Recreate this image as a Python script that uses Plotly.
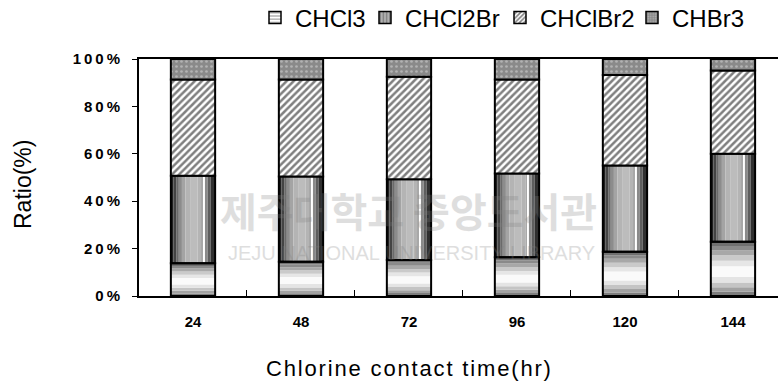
import plotly.graph_objects as go

# Contact times (hr) and composition of THM species (% of total)
times = ["24", "48", "72", "96", "120", "144"]
chcl3 = [13.8, 14.5, 15.2, 16.3, 18.7, 22.9]
chcl2br = [36.9, 35.9, 34.1, 35.4, 36.4, 37.1]
chclbr2 = [40.6, 40.9, 43.2, 39.6, 38.1, 35.1]
chbr3 = [8.7, 8.7, 7.5, 8.7, 6.8, 4.9]

series_names = ["CHCl3", "CHCl2Br", "CHClBr2", "CHBr3"]
y_ticks = [0, 20, 40, 60, 80, 100]

BAR_W = 0.41
THIN = "\u2009"
HAIR = "\u200a"

def spaced(s, sep=THIN):
    return sep.join(list(s))

fig = go.Figure()

base_cl2br = chcl3
base_clbr2 = [a + b for a, b in zip(chcl3, chcl2br)]
base_br3 = [a + b for a, b in zip(base_clbr2, chclbr2)]

# CHCl3: vertical grey-white-grey shading built from horizontal bands
cl3_bands = [
    (0.00, 0.08, "#7e7e7e"), (0.08, 0.16, "#a2a2a2"), (0.16, 0.25, "#c4c4c4"),
    (0.25, 0.35, "#e4e4e4"), (0.35, 0.55, "#fafafa"), (0.55, 0.65, "#e6e6e6"),
    (0.65, 0.75, "#cacaca"), (0.75, 0.84, "#a8a8a8"), (0.84, 0.92, "#8a8a8a"),
    (0.92, 1.00, "#707070"),
]
for f0, f1, col in cl3_bands:
    fig.add_trace(go.Bar(
        x=times, y=[v * (f1 - f0) for v in chcl3], base=[v * f0 for v in chcl3],
        width=BAR_W, marker=dict(color=col, line=dict(width=0)),
        showlegend=False, hoverinfo="skip"))

# CHCl2Br: cylinder-like horizontal shading built from vertical strips
cl2br_strips = [
    (0.00, 0.06, "#202020"), (0.06, 0.12, "#444444"), (0.12, 0.18, "#6a6a6a"),
    (0.18, 0.25, "#8c8c8c"), (0.25, 0.33, "#a4a4a4"), (0.33, 0.45, "#b4b4b4"),
    (0.45, 0.60, "#bcbcbc"), (0.60, 0.70, "#b4b4b4"), (0.70, 0.745, "#a8a8a8"),
    (0.745, 0.77, "#ffffff"), (0.77, 0.83, "#8a8a8a"), (0.83, 0.90, "#5e5e5e"),
    (0.90, 1.00, "#303030"),
]
for f0, f1, col in cl2br_strips:
    fig.add_trace(go.Bar(
        x=times, y=chcl2br, base=base_cl2br,
        width=BAR_W * (f1 - f0), offset=-BAR_W / 2 + BAR_W * f0,
        marker=dict(color=col, line=dict(width=0)),
        showlegend=False, hoverinfo="skip"))

# Outlines for the shaded segments
for vals, base in [(chcl3, [0] * 6), (chcl2br, base_cl2br)]:
    fig.add_trace(go.Bar(
        x=times, y=vals, base=base, width=BAR_W,
        marker=dict(color="rgba(0,0,0,0)", line=dict(color="black", width=2)),
        showlegend=False, hoverinfo="skip"))

# CHClBr2: dense diagonal hatch
fig.add_trace(go.Bar(
    x=times, y=chclbr2, base=base_clbr2, width=BAR_W,
    marker=dict(color="white", line=dict(color="black", width=2),
                pattern=dict(shape="/", fgcolor="black", bgcolor="white",
                             size=5, solidity=0.5)),
    showlegend=False, hoverinfo="skip"))

# CHBr3: dotted grey
fig.add_trace(go.Bar(
    x=times, y=chbr3, base=base_br3, width=BAR_W,
    marker=dict(color="#8a8a8a", line=dict(color="black", width=2),
                pattern=dict(shape=".", fgcolor="#dcdcdc", bgcolor="#8a8a8a",
                             size=5, solidity=0.22)),
    showlegend=False, hoverinfo="skip"))

# Legend entries, one small legend per species
legend_styles = [
    dict(shape="-", fgcolor="#555555", bgcolor="white", size=4, solidity=0.4),
    dict(shape="|", fgcolor="#444444", bgcolor="#b0b0b0", size=4, solidity=0.4),
    dict(shape="/", fgcolor="black", bgcolor="white", size=4, solidity=0.5),
    dict(shape=".", fgcolor="#dcdcdc", bgcolor="#8a8a8a", size=3, solidity=0.3),
]
legend_text_x = [295, 405, 540, 672]
legend_ids = ["legend", "legend2", "legend3", "legend4"]
for name, pat, lid in zip(series_names, legend_styles, legend_ids):
    fig.add_trace(go.Bar(
        x=[None], y=[None], name=name, legend=lid,
        marker=dict(color=pat["bgcolor"], line=dict(color="black", width=1.5),
                    pattern=pat)))

legend_layout = {}
for lid, tx in zip(legend_ids, legend_text_x):
    legend_layout[lid] = dict(
        x=(tx - 40) / 778, xanchor="left", y=1 - 18 / 383, yanchor="middle",
        xref="container", yref="container", orientation="h",
        font=dict(size=24), bgcolor="rgba(0,0,0,0)", borderwidth=0)

fig.update_layout(
    width=778, height=383,
    margin=dict(l=139, r=0, t=59, b=87),
    barmode="overlay",
    plot_bgcolor="white", paper_bgcolor="white",
    font=dict(family="Liberation Sans, Arial, sans-serif", color="black"),
    xaxis=dict(
        type="category", range=[-0.5, 5.417],
        showline=True, linecolor="black", linewidth=2, mirror=True,
        ticks="inside", ticklen=6, tickcolor="black", tickson="boundaries",
        tickfont=dict(size=15, family="Liberation Sans, Arial", weight="bold"),
        ticklabelstandoff=11, showgrid=False, zeroline=False),
    yaxis=dict(
        range=[0, 100], tickvals=y_ticks,
        ticktext=[spaced(f"{v}%") for v in y_ticks],
        showline=True, linecolor="black", linewidth=2,
        ticks="outside", ticklen=5, tickcolor="black",
        tickfont=dict(size=15, family="Liberation Sans, Arial", weight="bold"),
        ticklabelstandoff=9, showgrid=False, zeroline=False),
    annotations=[
        dict(text="Ratio(%)", xref="paper", yref="paper",
             x=(23 - 139) / 639, y=(296 - 185) / 237, xanchor="center",
             yanchor="middle", textangle=-90, showarrow=False,
             font=dict(size=23)),
        dict(text=spaced("Chlorine contact time(hr)", HAIR), xref="paper",
             yref="paper", x=(408 - 139) / 639, y=(296 - 368) / 237,
             xanchor="center", yanchor="middle", showarrow=False,
             font=dict(size=22)),
        dict(text="<b>제주대학교 중앙도서관</b>", xref="paper", yref="paper",
             x=(408 - 139) / 639, y=(296 - 210) / 237, xanchor="center",
             yanchor="middle", showarrow=False, opacity=0.25,
             font=dict(size=40, family="Noto Sans CJK KR", color="#808080")),
        dict(text="JEJU NATIONAL UNIVERSITY LIBRARY", xref="paper", yref="paper",
             x=(411 - 139) / 639, y=(296 - 253) / 237, xanchor="center",
             yanchor="middle", showarrow=False, opacity=0.25,
             font=dict(size=20, family="Liberation Sans", color="#808080")),
    ],
    **legend_layout,
)

fig.write_html("out.html")
